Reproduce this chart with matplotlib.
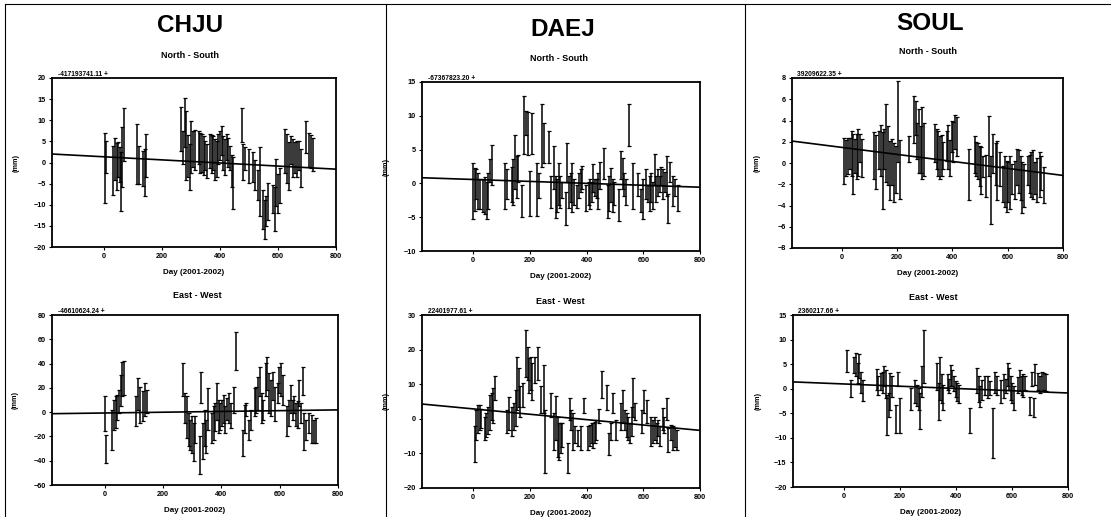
import numpy as np
import matplotlib
matplotlib.use("Agg")
import matplotlib.pyplot as plt
from matplotlib.lines import Line2D

plt.rcParams['font.family'] = ['Liberation Sans', 'DejaVu Sans']
plt.rcParams['font.weight'] = 'bold'

W, H = 1111, 517

# ---- data ----
stations = ['CHJU', 'DAEJ', 'SOUL']
xticks = [0, 200, 400, 600, 800]
xlim = (-180, 800)

# CHJU North-South
chju_ns_day = [3, 8, 31, 38, 43, 49, 55, 59, 63, 69, 114, 120, 135, 141, 145,
               266, 272, 278, 283, 289, 295, 300, 306, 312, 326, 331, 337, 343, 349, 354,
               366, 371, 377, 383, 389, 394, 400, 406, 411, 417, 423, 429, 434, 440, 446,
               474, 480, 486, 499, 514, 522, 531, 539, 548, 554, 560, 566, 581, 589, 594,
               600, 606, 625, 631, 638, 646, 651, 657, 664, 671, 680, 695, 706, 714, 722]
chju_ns_val = [-1.4, 1.3, -1.8, 0.9, -1.0, 0.7, -0.5, -4.5, 1.3, 6.6, 2.1, -0.6, -1.4, -2.4, 1.7,
               8.0, 3.6, 9.4, 4.1, 1.6, -1.0, 3.6, 3.2, 3.0, 3.6, 2.2, 2.2, 1.6, 1.7, 0.3,
               2.7, 2.0, 2.2, 0.7, 0.9, 3.2, 4.0, 5.2, 2.2, 1.3, 3.6, 2.4, 1.1, -2.0, -4.9,
               8.8, 0.1, 0.9, -0.8, -1.0, -3.0, -5.3, -4.5, -11.2, -13.5, -11.5, -9.2, -8.6, -10.9, -4.7,
               -7.3, -5.5, 2.7, 0.9, -0.8, 3.0, 1.1, 1.1, 0.9, 1.7, -1.3, 6.0, 3.0, 2.6, 2.0]
chju_ns_err = [8.3, 3.9, 5.8, 5.0, 5.5, 4.1, 4.1, 7.0, 7.0, 6.2, 7.1, 4.6, 4.2, 5.6, 5.1,
               5.2, 3.9, 5.8, 8.2, 5.0, 5.4, 6.2, 4.2, 4.8, 3.9, 4.8, 4.5, 4.6, 3.5, 4.0,
               4.1, 4.6, 4.0, 4.8, 4.3, 3.5, 3.5, 3.5, 4.0, 4.3, 3.1, 3.5, 2.9, 3.7, 6.2,
               4.0, 4.2, 2.7, 4.0, 3.5, 3.5, 3.5, 8.2, 4.6, 4.6, 3.5, 4.3, 3.3, 5.2, 5.6,
               4.6, 4.1, 5.2, 5.8, 5.6, 3.3, 4.5, 3.7, 4.3, 3.5, 4.5, 3.8, 4.0, 4.0, 3.9]
chju_ns_trend = (1.35, -0.00366)

# CHJU East-West
chju_ew_day = [1, 6, 26, 32, 38, 44, 49, 55, 61, 67, 109, 115, 121, 132, 138, 144,
               268, 276, 282, 288, 293, 299, 305, 311, 326, 331, 337, 343, 349, 354,
               368, 374, 380, 386, 391, 397, 403, 409, 414, 420, 426, 432, 443, 449,
               474, 480, 486, 495, 501, 515, 520, 526, 532, 538, 543, 553, 558, 564, 570,
               578, 584, 593, 599, 604, 610, 625, 631, 639, 645, 650, 656, 662, 668, 673,
               679, 685, 691, 702, 710, 717, 725]
chju_ew_val = [-1.5, -30.2, -14.5, -2.2, -0.1, 4.0, 8.8, 17.7, 27.2, 28.3, 0.6, 14.9, 6.0, 4.7, 10.2, 8.8,
               26.5, 3.3, -4.2, -14.5, -18.6, -18.6, -24.7, -14.5, -35.6, 20.4, -24.0, -13.1, -20.0, 2.6,
               -13.1, -9.0, -4.2, 8.8, -3.6, -3.6, -0.8, 2.6, -6.3, 2.6, 3.3, -2.9, 10.1, 50.4,
               -25.4, -5.6, 2.0, -14.5, -6.3, 8.1, 10.1, 15.6, 25.2, 3.3, 1.9, 26.5, 32.0, 15.6, 11.5,
               21.7, 6.7, 15.6, 26.5, 26.5, 18.3, -7.6, -0.8, 10.8, 1.9, 6.0, -2.2, -2.2, 15.6, -0.8,
               25.8, -15.8, -14.5, -9.0, -13.8, -15.9, -15.2]
chju_ew_err = [14.4, 11.7, 16.4, 12.3, 13.0, 10.3, 9.6, 13.0, 14.3, 14.1, 12.3, 13.0, 15.0, 12.3, 13.7, 9.6,
               13.6, 12.3, 17.1, 13.7, 12.3, 15.1, 15.7, 11.0, 15.7, 13.0, 15.0, 15.0, 13.7, 17.1,
               12.3, 13.7, 11.6, 15.1, 13.7, 11.0, 10.9, 11.6, 11.0, 8.9, 12.3, 10.3, 10.9, 15.7,
               10.9, 11.6, 5.5, 8.2, 8.2, 11.6, 10.9, 13.7, 12.3, 12.3, 8.2, 13.6, 13.7, 16.4, 15.0,
               11.6, 14.3, 8.2, 10.9, 13.6, 12.3, 12.3, 10.9, 11.6, 8.2, 6.9, 9.6, 11.0, 10.9, 8.2,
               11.6, 15.0, 8.2, 8.2, 11.6, 9.6, 10.3]
chju_ew_trend = (-0.7, 0.0032)

# DAEJ North-South
daej_ns_day = [0, 6, 12, 18, 24, 36, 42, 48, 53, 59, 65, 113, 119, 136, 142, 148, 154, 160, 172,
               180, 186, 192, 202, 208, 225, 231, 243, 249, 267, 276, 285, 291, 296, 302, 308, 314,
               326, 332, 338, 344, 350, 356, 368, 373, 379, 385, 399, 407, 413, 418, 424, 430, 436,
               442, 448, 462, 474, 480, 486, 492, 498, 513, 522, 527, 533, 539, 551, 563, 581, 593,
               599, 610, 616, 622, 628, 634, 640, 646, 652, 658, 664, 670, 676, 682, 687, 696, 705,
               711, 723]
daej_ns_val = [-1.1, -0.9, -0.1, -1.1, -1.6, -1.8, -1.8, -2.5, -1.1, 1.9, 2.7, -0.4, -0.1, -0.1, 0.2, 3.2, 0.9, 2.2, -2.6,
               8.7, 8.9, 7.4, -1.5, 7.4, -0.9, -0.3, 7.1, 6.0, 5.4, -1.3, 2.4, -2.0, -1.8, -0.1, -1.3, -1.0,
               -3.7, 3.1, -1.3, -0.6, -0.6, -1.3, -2.0, -0.3, 0.4, 0.9, -2.2, -1.5, -1.6, -1.3, 0.8, -0.6, -0.8,
               -1.1, 1.2, 2.9, -2.7, -1.5, -0.2, -1.8, -1.5, -3.2, 2.7, 1.5, -0.1, -1.3, 8.7, -0.4, -0.1, -2.5,
               -2.3, -0.1, -1.5, -1.5, -0.6, -1.8, 2.0, -0.8, 0.2, -0.1, 1.1, -0.1, 0.2, 1.1, -3.7, 1.7, -1.1,
               -0.6, -2.2]
daej_ns_err = [4.1, 3.2, 2.2, 2.7, 2.2, 2.4, 2.7, 2.7, 2.7, 1.7, 3.0, 3.4, 2.2, 2.6, 3.4, 4.0, 3.1, 2.0, 2.3,
               4.3, 1.8, 3.2, 3.3, 3.0, 3.9, 1.9, 4.6, 3.0, 2.4, 2.4, 3.2, 3.1, 2.4, 3.1, 2.4, 1.2,
               2.4, 2.9, 2.4, 2.2, 3.6, 1.9, 1.7, 1.9, 1.7, 1.7, 1.9, 1.7, 2.2, 1.5, 2.1, 1.2, 1.4,
               2.7, 2.0, 2.3, 2.4, 2.6, 2.5, 2.4, 1.7, 2.4, 2.1, 2.3, 1.7, 1.9, 3.1, 3.4, 1.7, 1.7,
               2.9, 2.2, 1.2, 2.6, 2.2, 2.0, 2.3, 1.9, 2.0, 1.2, 1.4, 2.2, 1.5, 2.9, 2.2, 1.5, 2.2,
               1.2, 1.9]
daej_ns_trend = (0.58, -0.00143)

# DAEJ East-West
daej_ew_day = [6, 12, 18, 23, 29, 41, 47, 53, 59, 65, 71, 79, 118, 126, 139, 145, 150, 155, 161, 167,
               176, 186, 192, 198, 203, 209, 218, 229, 238, 249, 255, 276, 285, 292, 298, 303, 309, 315,
               333, 341, 347, 353, 359, 371, 382, 391, 406, 412, 418, 423, 429, 435, 445, 453, 471,
               480, 488, 494, 503, 521, 529, 535, 541, 547, 553, 559, 565, 570, 594, 602, 612, 629,
               635, 641, 647, 653, 659, 668, 674, 682, 688, 698, 706, 712, 720]
daej_ew_val = [-7.3, -1.8, -0.1, 0.4, 0.0, -2.8, -1.8, -0.4, 1.9, 3.6, 3.8, 8.9, -0.8, 1.6, -0.8, 0.7, 3.1, 10.3, 9.1, 5.0,
               6.9, 18.9, 16.0, 12.5, 13.1, 10.8, 14.1, 16.0, 5.5, 8.6, -6.6, 4.0, -3.7, 0.2, -5.2, -6.6, -5.6, -4.7,
               -11.4, 2.8, -0.3, -3.7, -4.6, -5.6, -5.6, 3.8, -5.6, -4.9, -4.2, -4.9, -3.9, -3.2, 0.7, 9.8, 6.2,
               -7.3, -3.7, 4.5, -3.2, 0.7, 3.5, -0.3, -1.8, -2.8, -4.2, -0.8, 6.2, 2.1, -0.8, 5.0, 2.1, -3.7,
               -3.7, -2.8, -4.2, -2.7, -5.1, -0.1, -1.8, 2.8, -6.1, -4.0, -5.6, -5.4, -6.1]
daej_ew_err = [5.1, 4.4, 4.1, 3.6, 2.7, 3.4, 3.4, 3.9, 5.1, 3.9, 5.1, 3.4, 3.4, 4.8, 4.3, 3.9, 5.3, 7.7, 5.6, 4.4,
               3.4, 6.7, 4.8, 5.1, 4.8, 5.3, 3.8, 4.8, 3.9, 7.0, 9.2, 3.4, 5.3, 6.3, 5.8, 5.3, 4.3, 3.4,
               4.4, 3.1, 2.9, 5.3, 2.4, 2.4, 3.4, 2.2, 3.4, 3.1, 2.9, 3.6, 3.1, 2.9, 2.0, 3.9, 3.6,
               3.1, 2.4, 2.9, 2.9, 3.9, 4.8, 2.9, 3.4, 3.4, 2.9, 4.3, 5.6, 2.4, 3.4, 3.4, 3.4, 4.3,
               3.4, 3.4, 2.9, 2.4, 2.9, 3.1, 2.4, 3.1, 3.4, 2.2, 3.4, 2.7, 2.9]
daej_ew_trend = (2.87, -0.00777)

# SOUL North-South
soul_ns_day = [8, 16, 24, 30, 36, 42, 48, 54, 60, 66, 72, 117, 123, 136, 142, 148, 154, 160, 166, 174,
               181, 189, 196, 205, 211, 244, 261, 267, 273, 279, 285, 291, 297, 337, 343, 349, 355, 361,
               367, 379, 385, 391, 397, 403, 409, 415, 461, 481, 487, 493, 499, 505, 511, 523, 532,
               541, 547, 556, 563, 571, 583, 590, 596, 602, 608, 617, 626, 634, 641, 647, 653, 659,
               674, 680, 686, 692, 700, 707, 716, 722, 731]
soul_ns_val = [0.2, 0.5, 0.7, 0.9, 0.9, -0.1, 0.7, 0.6, 1.0, 1.4, 0.5, 0.7, 0.1, 1.2, 1.2, -0.7, 1.3, 1.9, 0.7, -0.7,
               0.1, -0.9, -0.6, 3.9, -0.6, 1.3, 4.1, 4.2, 2.1, 2.1, 1.3, 1.9, 1.3, 1.9, 1.3, 0.9, 0.5, 0.7,
               0.7, 1.6, 1.5, 0.5, 2.5, 2.0, 2.9, 2.5, -1.1, 0.8, 0.4, 0.2, -0.3, -0.7, -0.3, -1.2, 1.6,
               -2.5, 0.9, -0.1, -0.7, -0.6, -2.0, -1.7, -2.2, -1.8, -1.8, -1.5, -1.6, -0.4, -0.8, -1.4, -2.3, -2.1,
               -0.7, -1.0, -1.1, -1.1, -1.4, -1.6, -1.1, -0.9, -2.1]
soul_ns_err = [2.2, 1.7, 1.7, 1.5, 2.1, 2.8, 1.6, 2.1, 2.2, 1.3, 1.8, 2.2, 2.5, 1.8, 2.4, 3.6, 1.9, 3.7, 2.8, 2.8,
               2.2, 2.8, 2.2, 3.8, 2.8, 1.2, 2.2, 1.6, 1.7, 3.0, 2.2, 3.4, 2.5, 1.8, 1.9, 2.1, 2.0, 1.9,
               1.3, 1.4, 2.1, 1.7, 1.5, 1.9, 1.6, 1.8, 2.4, 1.7, 1.6, 1.7, 1.9, 2.2, 1.0, 2.0, 2.8,
               3.2, 1.8, 2.0, 2.8, 1.6, 1.7, 2.4, 2.4, 1.9, 2.5, 1.4, 1.8, 1.7, 2.0, 2.1, 2.4, 2.0,
               1.4, 1.8, 2.1, 2.3, 1.5, 2.1, 2.1, 1.6, 1.7]
soul_ns_trend = (1.47, -0.0033)

# SOUL East-West
soul_ew_day = [12, 27, 39, 45, 51, 56, 62, 68, 118, 123, 133, 139, 145, 150, 155, 161, 167, 173, 186,
               194, 203, 241, 256, 262, 268, 274, 280, 288, 333, 339, 345, 350, 356, 371, 376, 382,
               388, 394, 400, 406, 412, 451, 476, 482, 488, 494, 503, 515, 523, 532, 539, 547, 561,
               571, 579, 585, 591, 596, 602, 608, 623, 629, 635, 641, 647, 665, 670, 679, 682, 692,
               700, 706, 715, 721]
soul_ew_val = [5.7, 0.1, 4.8, 4.9, 3.2, 4.6, 1.2, -0.4, 1.9, 0.7, 1.5, 1.2, 2.6, 1.0, -5.3, -3.3, -0.6, 0.5, -6.2,
               2.0, -5.5, -2.1, -0.6, -1.4, -2.1, -4.5, 1.5, 6.6, 2.5, -2.6, 2.1, 0.0, -1.8, 1.4, 0.5, 2.7,
               2.2, 1.0, -0.1, -0.7, -1.1, -6.5, 1.7, -0.1, -1.6, -0.2, 0.7, 0.3, 0.2, -9.0, 1.2, 0.7, -0.6,
               0.5, 0.5, 2.9, 2.0, 0.2, -0.9, -1.9, 0.7, 1.7, 0.7, 0.7, 1.2, -3.5, 2.0, -3.8, 2.9, 1.5,
               0.8, 1.5, 1.5, 1.2]
soul_ew_err = [2.2, 1.7, 1.6, 2.4, 2.0, 2.4, 2.1, 2.2, 2.1, 1.9, 1.7, 2.1, 2.1, 2.9, 4.1, 2.4, 3.8, 2.1, 2.9,
               1.5, 3.6, 2.2, 2.4, 2.2, 2.2, 3.6, 3.1, 5.4, 2.7, 3.8, 4.3, 2.9, 2.6, 1.6, 1.4, 2.2,
               1.7, 1.5, 1.6, 1.9, 1.9, 2.6, 2.6, 2.6, 2.1, 2.0, 1.9, 2.2, 1.4, 5.1, 2.1, 1.9, 2.4,
               2.4, 1.4, 2.4, 2.2, 2.4, 2.1, 2.4, 1.6, 2.2, 1.9, 2.3, 1.4, 1.9, 1.5, 1.9, 2.1, 1.7,
               1.7, 2.0, 1.7, 1.7]
soul_ew_trend = (0.97, -0.0023)

offsets = {
    'CHJU': ('-417193741.11 +', '-46610624.24 +'),
    'DAEJ': ('-67367823.20 +', '22401977.61 +'),
    'SOUL': ('39209622.35 +', '2360217.66 +'),
}

fig = plt.figure(figsize=(W / 100, H / 100), dpi=100)
fig.patch.set_facecolor('white')


def rect(x0, y0, x1, y1):
    # pixel box measured from the top-left of the picture
    return [x0 / W, 1 - y1 / H, (x1 - x0) / W, (y1 - y0) / H]


def ftext(x, y, s, size, **kw):
    fig.text(x / W, 1 - y / H, s, fontsize=size, ha='center', va='center',
             fontweight='bold', **kw)


def panel(box, days, val, err, trend, ylim, ystep, offset):
    ax = fig.add_axes(rect(*box))
    ax.errorbar(days, val, yerr=err, fmt='none', ecolor='black',
                elinewidth=1.1, capsize=1.6, capthick=0.9)
    xs = np.array(xlim, dtype=float)
    ax.plot(xs, trend[0] + trend[1] * xs, color='black', lw=1.2)
    ax.set_xlim(xlim)
    ax.set_ylim(ylim)
    ax.set_xticks(xticks)
    ax.set_yticks(np.arange(ylim[0], ylim[1] + ystep / 2, ystep))
    ax.tick_params(labelsize=5.2, length=2, width=0.8, pad=2.5, direction='out')
    for lab in ax.get_xticklabels() + ax.get_yticklabels():
        lab.set_fontweight('bold')
    for sp in ax.spines.values():
        sp.set_linewidth(1.3)
    ax.set_ylabel('(mm)', fontsize=5.2, fontweight='bold')
    ax.yaxis.set_label_coords(-0.115, 0.5)
    ax.set_xlabel('Day (2001-2002)', fontsize=5.8, fontweight='bold')
    ax.xaxis.set_label_coords(0.5, -0.13)
    ax.text(0.02, 1.0, offset, transform=ax.transAxes, fontsize=4.8,
            fontweight='bold', ha='left', va='bottom')
    return ax


# CHJU
panel((52, 78, 336, 247), chju_ns_day, chju_ns_val, chju_ns_err, chju_ns_trend,
      (-20, 20), 5, offsets['CHJU'][0])
panel((52, 315, 338, 485), chju_ew_day, chju_ew_val, chju_ew_err, chju_ew_trend,
      (-60, 80), 20, offsets['CHJU'][1])
# DAEJ
panel((422, 82, 700, 251), daej_ns_day, daej_ns_val, daej_ns_err, daej_ns_trend,
      (-10, 15), 5, offsets['DAEJ'][0])
panel((422, 315, 700, 488), daej_ew_day, daej_ew_val, daej_ew_err, daej_ew_trend,
      (-20, 30), 10, offsets['DAEJ'][1])
# SOUL
panel((792, 78, 1063, 248), soul_ns_day, soul_ns_val, soul_ns_err, soul_ns_trend,
      (-8, 8), 2, offsets['SOUL'][0])
panel((793, 315, 1068, 487), soul_ew_day, soul_ew_val, soul_ew_err, soul_ew_trend,
      (-20, 15), 5, offsets['SOUL'][1])

# station names and component titles
for name, (x, y) in zip(stations, [(190, 25), (563, 30), (930, 23)]):
    ftext(x, y, name, 17.5)
for x, y in [(190, 55), (559, 58), (928, 52)]:
    ftext(x, y, 'North - South', 6.5)
for x, y in [(197, 295), (560, 301), (933, 298)]:
    ftext(x, y, 'East - West', 6.5)

# frame lines of the scanned page
for x in (5, 386, 745):
    fig.add_artist(Line2D([x / W, x / W], [0, 1 - 4 / H], color='black', lw=0.8))
fig.add_artist(Line2D([5 / W, 1], [1 - 4 / H, 1 - 4 / H], color='black', lw=0.8))

fig.savefig('out.png', dpi=100, facecolor='white')
